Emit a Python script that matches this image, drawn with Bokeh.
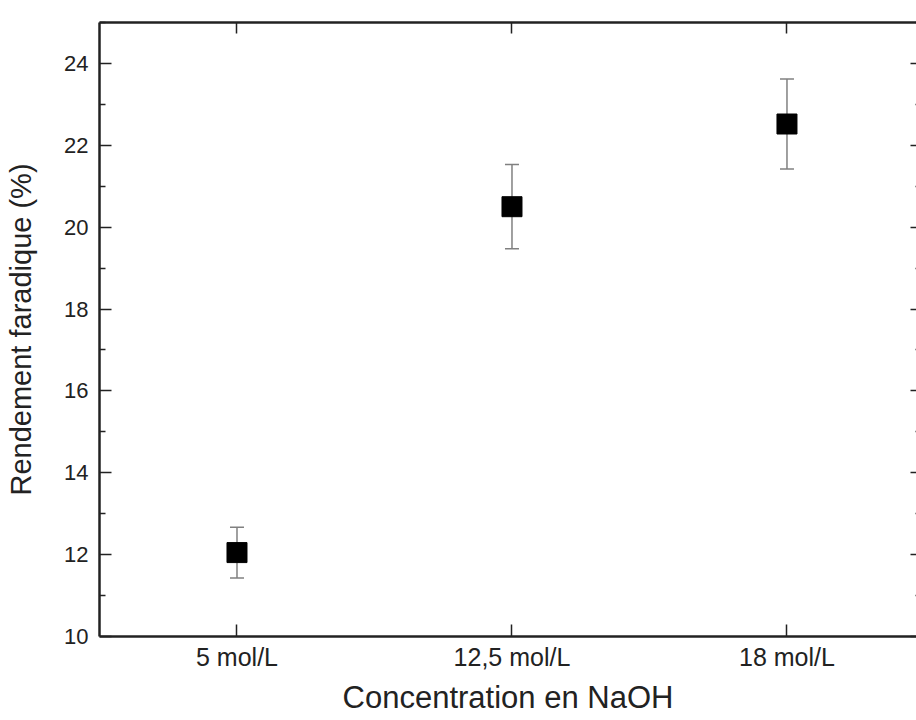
from bokeh.plotting import figure
from bokeh.models import (ColumnDataSource, Whisker, TeeHead, FixedTicker,
                          LinearAxis, Range1d)
from bokeh.embed import file_html
from bokeh.resources import INLINE

# ---- data ----
categories = ["5 mol/L", "12,5 mol/L", "18 mol/L"]
rendement = [12.05, 20.5, 22.52]
erreur = [0.62, 1.03, 1.1]
y_ticks = [10, 12, 14, 16, 18, 20, 22, 24]

xpos = [i + 1 for i in range(len(categories))]
src = ColumnDataSource(dict(
    x=xpos, y=rendement,
    lo=[v - e for v, e in zip(rendement, erreur)],
    hi=[v + e for v, e in zip(rendement, erreur)],
))

FONT = "Liberation Sans"
AX = "#222222"

p = figure(width=916, height=720, output_backend="svg", toolbar_location=None,
           x_range=Range1d(0.5, 3.471), y_range=Range1d(10, 25),
           min_border_left=99, min_border_right=0, min_border_top=22,
           min_border_bottom=84, background_fill_color="white",
           border_fill_color="white")
p.outline_line_color = None
p.grid.visible = False

# error bars
wh = Whisker(source=src, base="x", lower="lo", upper="hi",
             line_color="#808080", line_width=1.5,
             upper_head=TeeHead(size=14, line_color="#808080", line_width=1.5),
             lower_head=TeeHead(size=14, line_color="#808080", line_width=1.5))
p.add_layout(wh)

p.scatter("x", "y", source=src, marker="square", size=20,
          fill_color="black", line_color="black")

xt = FixedTicker(ticks=xpos, minor_ticks=[])
yt = FixedTicker(ticks=y_ticks, minor_ticks=[v + 1 for v in y_ticks])

# bottom axis
xa = p.xaxis[0]
xa.ticker = xt
xa.major_label_overrides = {x: c for x, c in zip(xpos, categories)}
xa.axis_label = "Concentration en NaOH"
xa.axis_line_color = AX
xa.axis_line_width = 2.5
xa.major_tick_in = 12
xa.major_tick_out = 0
xa.major_tick_line_color = AX
xa.major_tick_line_width = 1.5
xa.minor_tick_line_color = None
xa.major_label_text_font = FONT
xa.major_label_text_font_size = "25px"
xa.major_label_text_color = "#222222"
xa.major_label_standoff = 6
xa.axis_label_text_font = FONT
xa.axis_label_text_font_size = "31px"
xa.axis_label_text_font_style = "normal"
xa.axis_label_text_color = "#222222"
xa.axis_label_standoff = 6

# left axis
ya = p.yaxis[0]
ya.ticker = yt
ya.axis_label = "Rendement faradique (%)"
ya.axis_line_color = AX
ya.axis_line_width = 2.5
ya.major_tick_in = 12
ya.major_tick_out = 0
ya.minor_tick_in = 6
ya.minor_tick_out = 0
ya.major_tick_line_color = AX
ya.minor_tick_line_color = AX
ya.major_tick_line_width = 1.5
ya.minor_tick_line_width = 1.5
ya.major_label_text_font = FONT
ya.major_label_text_font_size = "22px"
ya.major_label_text_color = "#222222"
ya.major_label_standoff = 11
ya.axis_label_text_font = FONT
ya.axis_label_text_font_size = "29px"
ya.axis_label_text_font_style = "normal"
ya.axis_label_text_color = "#222222"
ya.axis_label_standoff = 24

# top axis (ticks only)
ta = LinearAxis(ticker=xt, axis_line_color=AX, axis_line_width=2.5,
                major_tick_in=11, major_tick_out=0, major_tick_line_color=AX,
                major_tick_line_width=1.5, minor_tick_line_color=None,
                major_label_overrides={x: "" for x in xpos},
                major_label_standoff=0)
p.add_layout(ta, "above")

# right axis (its spine lies just beyond the visible edge)
ra = LinearAxis(ticker=yt, axis_line_color=None,
                major_tick_in=6, major_tick_out=0, major_tick_line_color=AX,
                major_tick_line_width=1.5, minor_tick_in=1, minor_tick_out=0,
                minor_tick_line_color=AX, minor_tick_line_width=1.5,
                major_label_overrides={v: "" for v in y_ticks},
                major_label_standoff=0)
p.add_layout(ra, "right")

open("out.html", "w").write(file_html(p, INLINE))
